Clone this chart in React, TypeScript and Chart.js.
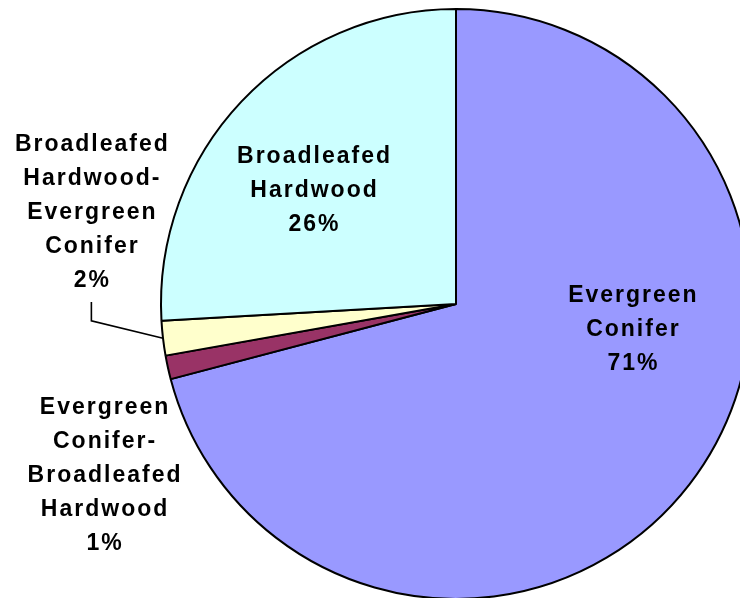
import React, { useEffect, useRef } from "react";
import { Chart, registerables } from "chart.js";

Chart.register(...registerables);

const categories: string[][] = [
  ["Evergreen", "Conifer"],
  ["Evergreen", "Conifer-", "Broadleafed", "Hardwood"],
  ["Broadleafed", "Hardwood-", "Evergreen", "Conifer"],
  ["Broadleafed", "Hardwood"],
];
const shares: number[] = [70.9, 1.3, 1.9, 25.9];
const sliceColors: string[] = ["#9999FF", "#993366", "#FFFFCC", "#CCFFFF"];

// label placement relative to pie center, in units of the pie radius
const labelPlacement = [
  { fx: 0.598, fy: 0.088 },
  { fx: -1.193, fy: 0.581 },
  { fx: -1.236, fy: -0.311 },
  { fx: -0.483, fy: -0.385 },
];
const leaderFor = 2;
const leaderPoints = [
  { fx: -1.236, fy: -0.007 },
  { fx: -1.236, fy: 0.057 },
];

const labelPlugin = {
  id: "sliceLabels",
  afterDatasetsDraw(chart: any) {
    const meta = chart.getDatasetMeta(0);
    const ctx: CanvasRenderingContext2D = chart.ctx;
    const total = shares.reduce((a, b) => a + b, 0);
    ctx.save();
    meta.data.forEach((arc: any, i: number) => {
      const { x, y, outerRadius, startAngle, endAngle } = arc.getProps(
        ["x", "y", "outerRadius", "startAngle", "endAngle"],
        true
      );
      const p = labelPlacement[i];
      const cx = x + p.fx * outerRadius;
      const cy = y + p.fy * outerRadius;
      const lines = [...categories[i], Math.round((shares[i] / total) * 100) + "%"];
      const lh = 34;
      ctx.font = "bold 23px 'Liberation Sans', Arial, sans-serif";
      (ctx as any).letterSpacing = "2px";
      ctx.fillStyle = "#000";
      ctx.textAlign = "center";
      ctx.textBaseline = "middle";
      lines.forEach((ln, k) => {
        ctx.fillText(ln, cx + 1, cy + (k - (lines.length - 1) / 2) * lh);
      });
      if (i === leaderFor) {
        const mid = (startAngle + endAngle) / 2;
        const ex = x + Math.cos(mid) * outerRadius;
        const ey = y + Math.sin(mid) * outerRadius;
        ctx.beginPath();
        ctx.moveTo(x + leaderPoints[0].fx * outerRadius, y + leaderPoints[0].fy * outerRadius);
        ctx.lineTo(x + leaderPoints[1].fx * outerRadius, y + leaderPoints[1].fy * outerRadius);
        ctx.lineTo(ex, ey);
        ctx.strokeStyle = "#000";
        ctx.lineWidth = 1.6;
        ctx.stroke();
      }
    });
    ctx.restore();
  },
};

export default function App() {
  const ref = useRef<HTMLCanvasElement | null>(null);
  useEffect(() => {
    if (!ref.current) return;
    const chart = new Chart(ref.current, {
      type: "pie",
      data: {
        labels: categories.map((c) => c.join(" ")),
        datasets: [
          {
            data: shares,
            backgroundColor: sliceColors,
            borderColor: "#000",
            borderWidth: 2,
          },
        ],
      },
      options: {
        responsive: false,
        animation: false,
        layout: { padding: 8 },
        plugins: {
          legend: { display: false },
          tooltip: { enabled: false },
        },
      },
      plugins: [labelPlugin],
    });
    return () => chart.destroy();
  }, []);
  return (
    <div
      style={{
        position: "fixed",
        left: 0,
        top: 0,
        width: 740,
        height: 598,
        overflow: "hidden",
        background: "#fff",
      }}
    >
      <canvas ref={ref} width={912} height={608} style={{ display: "block" }} />
    </div>
  );
}
